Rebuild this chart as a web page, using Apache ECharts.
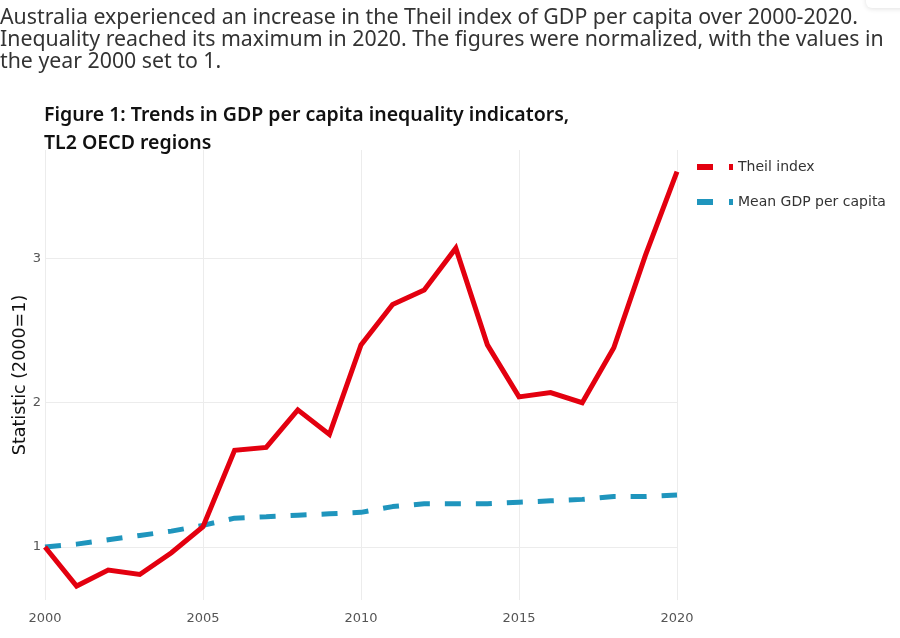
<!DOCTYPE html>
<html>
<head>
<meta charset="utf-8">
<title>Theil index Australia</title>
<script src="https://cdn.jsdelivr.net/npm/echarts@6/dist/echarts.min.js"></script>
<style>
  html, body { margin: 0; padding: 0; background: #fff; }
  .chart { width: 900px; height: 638px; }
</style>
</head>
<body>
<div class="chart"></div>
<script>
// data
var years = [2000, 2001, 2002, 2003, 2004, 2005, 2006, 2007, 2008, 2009, 2010,
             2011, 2012, 2013, 2014, 2015, 2016, 2017, 2018, 2019, 2020];
var theil = [1.00, 0.73, 0.84, 0.81, 0.96, 1.14, 1.67, 1.69, 1.95, 1.78, 2.40,
             2.68, 2.78, 3.07, 2.40, 2.04, 2.07, 2.00, 2.38, 3.02, 3.60];
var meanGdp = [1.00, 1.02, 1.05, 1.08, 1.11, 1.15, 1.20, 1.21, 1.22, 1.23, 1.24,
               1.28, 1.30, 1.30, 1.30, 1.31, 1.32, 1.33, 1.35, 1.35, 1.36];
var yTicks = [1, 2, 3];

var introText = 'Australia experienced an increase in the Theil index of GDP per capita over 2000-2020.\n' +
  'Inequality reached its maximum in 2020. The figures were normalized, with the values in\n' +
  'the year 2000 set to 1.';
var figTitle = 'Figure 1: Trends in GDP per capita inequality indicators,\nTL2 OECD regions';

function pairs(xs, ys) {
  return xs.map(function (x, i) { return [x, ys[i]]; });
}

var myChart = echarts.init(document.querySelector('.chart'));

// legend icon: short thick dash + small square, like the original
var legendIcon = 'path://M0,0h16v6h-16z M32,0h4v6h-4z';

var option = {
  animation: false,
  textStyle: { fontFamily: 'DejaVu Sans' },
  title: [{
    text: introText,
    left: 0,
    top: 7,
    padding: 0,
    textStyle: {
      fontFamily: 'Noto Sans',
      fontSize: 21.3,
      fontWeight: 'normal',
      color: '#333',
      lineHeight: 22
    }
  }, {
    text: figTitle,
    left: 44,
    top: 101,
    padding: 0,
    textStyle: {
      fontFamily: 'Noto Sans',
      fontSize: 19.5,
      fontWeight: 600,
      color: '#111',
      lineHeight: 28
    }
  }],
  // faint shadowed button edge in the top right corner
  graphic: [{
    type: 'rect',
    left: 866,
    top: -30,
    shape: { width: 60, height: 38, r: 6 },
    style: { fill: '#fff', shadowBlur: 5, shadowColor: 'rgba(0,0,0,0.12)', shadowOffsetY: 1 }
  }],
  legend: {
    orient: 'vertical',
    left: 692,
    top: 155,
    itemGap: 21,
    itemWidth: 36,
    itemHeight: 6,
    textStyle: { fontFamily: 'DejaVu Sans', fontSize: 14, color: '#333' },
    data: [
      { name: 'Theil index', icon: legendIcon },
      { name: 'Mean GDP per capita', icon: legendIcon }
    ]
  },
  grid: {
    left: 45,
    right: 223,
    top: 150,
    bottom: 38,
    outerBoundsMode: 'none'
  },
  xAxis: {
    type: 'value',
    min: 2000,
    max: 2020,
    interval: 5,
    axisLine: { show: false },
    axisTick: { show: false },
    axisLabel: {
      fontFamily: 'DejaVu Sans',
      color: '#555',
      fontSize: 13,
      margin: 12,
      formatter: function (v) { return String(v); }
    },
    splitLine: { show: true, lineStyle: { color: '#ececec', width: 1 } }
  },
  yAxis: {
    type: 'value',
    min: 0.633,
    max: 3.75,
    name: 'Statistic (2000=1)',
    nameLocation: 'middle',
    nameGap: 16,
    nameMoveOverlap: false,
    nameTextStyle: { fontFamily: 'DejaVu Sans', fontSize: 17.5, color: '#111' },
    axisLine: { show: false },
    axisTick: { show: false, customValues: yTicks },
    axisLabel: { fontFamily: 'DejaVu Sans', color: '#555', fontSize: 13, margin: 4, customValues: yTicks },
    splitLine: { show: true, lineStyle: { color: '#ececec', width: 1 } }
  },
  series: [{
    name: 'Theil index',
    type: 'line',
    data: pairs(years, theil),
    symbol: 'none',
    color: '#e3000f',
    lineStyle: { width: 5, color: '#e3000f', join: 'miter' },
    z: 3
  }, {
    name: 'Mean GDP per capita',
    type: 'line',
    data: pairs(years, meanGdp),
    symbol: 'none',
    color: '#1f95bd',
    lineStyle: { width: 5, color: '#1f95bd', type: [16, 15] },
    z: 2
  }]
};

myChart.setOption(option);
</script>
</body>
</html>
